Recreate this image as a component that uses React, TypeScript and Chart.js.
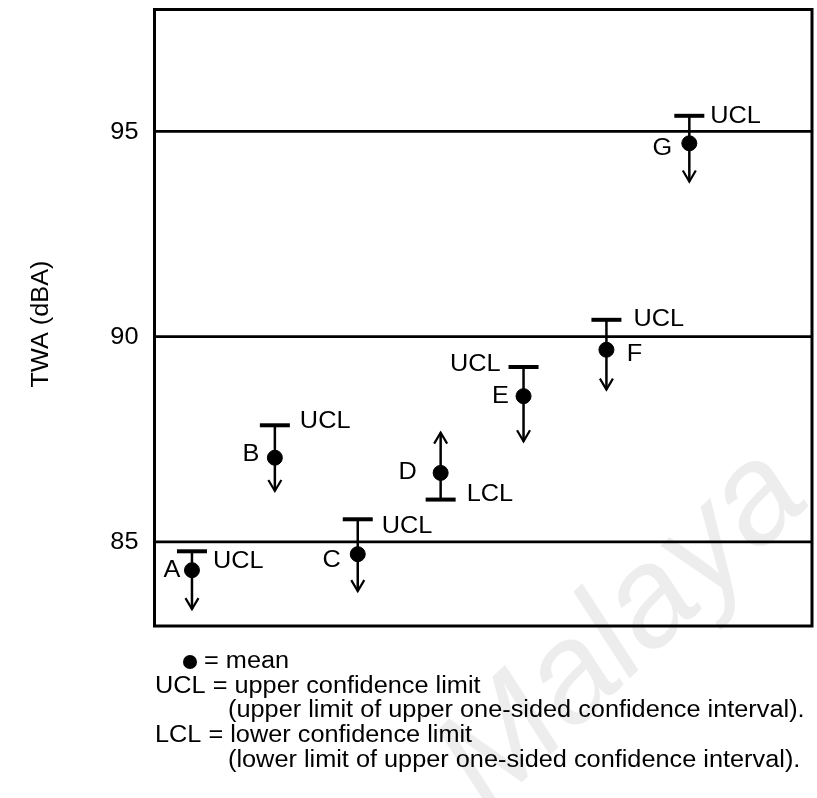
import React, { useEffect, useRef } from "react";
import { Chart, registerables } from "chart.js";

Chart.register(...registerables);

// Sample identifiers and their positions along the horizontal axis
const SAMPLES = ["A", "B", "C", "D", "E", "F", "G"];
const POSITIONS = [1, 2, 3, 4, 5, 6, 7];

// Mean TWA (dBA) for each sample
const MEANS = [84.31, 87.05, 84.7, 86.68, 88.55, 89.68, 94.71];

// Confidence limit value and which limit it is
const LIMITS = [84.77, 87.84, 85.55, 86.03, 89.26, 90.41, 95.38];
const LIMIT_KINDS = ["UCL", "UCL", "UCL", "LCL", "UCL", "UCL", "UCL"];

// Where each open-ended interval arrow stops
const ARROW_ENDS = [83.36, 86.24, 83.8, 87.66, 87.45, 88.71, 93.78];

// Y axis tick values and horizontal reference levels
const Y_TICKS = [85, 90, 95];
const REFERENCE_LEVELS = [85, 90, 95];

const Y_TITLE = "TWA (dBA)";

const KEY_LINES = [
  { lead: "\u25CF", text: "= mean" },
  { lead: "UCL", text: "= upper confidence limit" },
  { lead: "", text: "(upper limit of upper one-sided confidence interval)." },
  { lead: "LCL", text: "= lower confidence limit" },
  { lead: "", text: "(lower limit of upper one-sided confidence interval)." },
];

// Label placement (pixel offsets from the stem)
const NAME_OFFSETS: [number, number][] = [
  [-20, 0], [-24, -3], [-26, 6], [-33, 0], [-23, 1], [28, 5], [-27, 5],
];
const LIMIT_LABEL_OFFSETS: [number, number, "left" | "right"][] = [
  [21, 10, "left"], [25, -4, "left"], [24, 7, "left"], [26, -5, "left"],
  [-23, -2, "right"], [27, 0, "left"], [21, 1, "left"],
];

const FONT_FAMILY = '"Liberation Sans", Arial, Helvetica, sans-serif';
const FONT_SIZE = 23;
const STRETCH = 1.1;

function wideText(
  ctx: CanvasRenderingContext2D,
  text: string,
  x: number,
  y: number,
  align: CanvasTextAlign,
  rotate = 0
) {
  ctx.save();
  ctx.translate(x, y);
  if (rotate) ctx.rotate(rotate);
  ctx.scale(STRETCH, 1);
  ctx.textAlign = align;
  ctx.textBaseline = "middle";
  ctx.fillText(text, 0, 0);
  ctx.restore();
}

const intervalPlugin = {
  id: "intervalPlugin",
  beforeDraw(chart: any) {
    const ctx: CanvasRenderingContext2D = chart.ctx;
    ctx.save();
    ctx.fillStyle = "#ffffff";
    ctx.fillRect(0, 0, chart.width, chart.height);
    // faint watermark
    ctx.translate(488, 815);
    ctx.rotate((-44 * Math.PI) / 180);
    ctx.font = `italic 140px ${FONT_FAMILY}`;
    ctx.fillStyle = "rgba(0,0,0,0.07)";
    ctx.textBaseline = "alphabetic";
    ctx.fillText("Malaya", 0, 0);
    ctx.restore();
  },
  beforeDatasetsDraw(chart: any) {
    const ctx: CanvasRenderingContext2D = chart.ctx;
    const xs = chart.scales.x;
    const ys = chart.scales.y;
    const area = chart.chartArea;
    ctx.save();
    ctx.strokeStyle = "#000";
    ctx.fillStyle = "#000";
    ctx.lineCap = "butt";

    // reference levels
    ctx.lineWidth = 2.6;
    REFERENCE_LEVELS.forEach((v) => {
      const y = ys.getPixelForValue(v);
      ctx.beginPath();
      ctx.moveTo(area.left, y);
      ctx.lineTo(area.right, y);
      ctx.stroke();
    });

    // frame
    ctx.lineWidth = 3;
    ctx.strokeRect(area.left, area.top, area.right - area.left, area.bottom - area.top);

    ctx.font = `${FONT_SIZE}px ${FONT_FAMILY}`;

    // tick labels
    Y_TICKS.forEach((v) => {
      wideText(ctx, String(v), area.left - 16, ys.getPixelForValue(v) + 1, "right");
    });

    // axis title
    wideText(ctx, Y_TITLE, 42, 324, "center", -Math.PI / 2);

    // intervals
    POSITIONS.forEach((p, i) => {
      const x = xs.getPixelForValue(p);
      const yl = ys.getPixelForValue(LIMITS[i]);
      const ym = ys.getPixelForValue(MEANS[i]);
      const ya = ys.getPixelForValue(ARROW_ENDS[i]);
      const dir = ya > yl ? 1 : -1;

      ctx.lineWidth = 2.5;
      ctx.beginPath();
      ctx.moveTo(x, yl);
      ctx.lineTo(x, ya);
      ctx.stroke();

      // arrowhead
      ctx.lineWidth = 2.2;
      ctx.beginPath();
      ctx.moveTo(x - 6.5, ya - dir * 11);
      ctx.lineTo(x, ya);
      ctx.lineTo(x + 6.5, ya - dir * 11);
      ctx.stroke();

      // limit bar
      ctx.lineWidth = 4;
      ctx.beginPath();
      ctx.moveTo(x - 15, yl);
      ctx.lineTo(x + 15, yl);
      ctx.stroke();

      const [nx, ny] = NAME_OFFSETS[i];
      wideText(ctx, SAMPLES[i], x + nx, ym + ny, "center");
      const [lx, ly, la] = LIMIT_LABEL_OFFSETS[i];
      wideText(ctx, LIMIT_KINDS[i], x + lx, yl + ly, la);
    });

    // key below the chart
    const keyRows = [662, 687, 711, 736, 761];
    KEY_LINES.forEach((line, i) => {
      const y = keyRows[i];
      if (line.lead === "\u25CF") {
        ctx.beginPath();
        ctx.ellipse(190, y, 7, 7, 0, 0, Math.PI * 2);
        ctx.fill();
        wideText(ctx, line.text, 204, y, "left");
      } else if (line.lead) {
        wideText(ctx, line.lead + " " + line.text, 155, y, "left");
      } else {
        wideText(ctx, line.text, 228, y, "left");
      }
    });

    ctx.restore();
  },
};

export default function App() {
  const canvasRef = useRef<HTMLCanvasElement | null>(null);

  useEffect(() => {
    const canvas = canvasRef.current;
    if (!canvas) return;
    const chart = new Chart(canvas, {
      type: "scatter",
      data: {
        datasets: [
          {
            label: "mean",
            data: POSITIONS.map((p, i) => ({ x: p, y: MEANS[i] })),
            backgroundColor: "#000",
            borderColor: "#000",
            pointRadius: 7.5,
            pointHoverRadius: 7.5,
            pointStyle: "circle",
          },
        ],
      },
      options: {
        responsive: false,
        animation: false,
        devicePixelRatio: 1,
        layout: { autoPadding: false, padding: { left: 154.5, top: 9.5, right: 5, bottom: 172 } },
        plugins: {
          legend: { display: false },
          tooltip: { enabled: false },
          title: { display: false },
        },
        scales: {
          x: { type: "linear", min: 0.548, max: 8.48, display: false },
          y: { type: "linear", min: 82.95, max: 97.97, display: false },
        },
      },
      plugins: [intervalPlugin],
    });
    return () => chart.destroy();
  }, []);

  return (
    <div style={{ position: "absolute", left: 0, top: 0, width: 817, height: 798, background: "#fff" }}>
      <canvas ref={canvasRef} width={817} height={798} />
    </div>
  );
}
